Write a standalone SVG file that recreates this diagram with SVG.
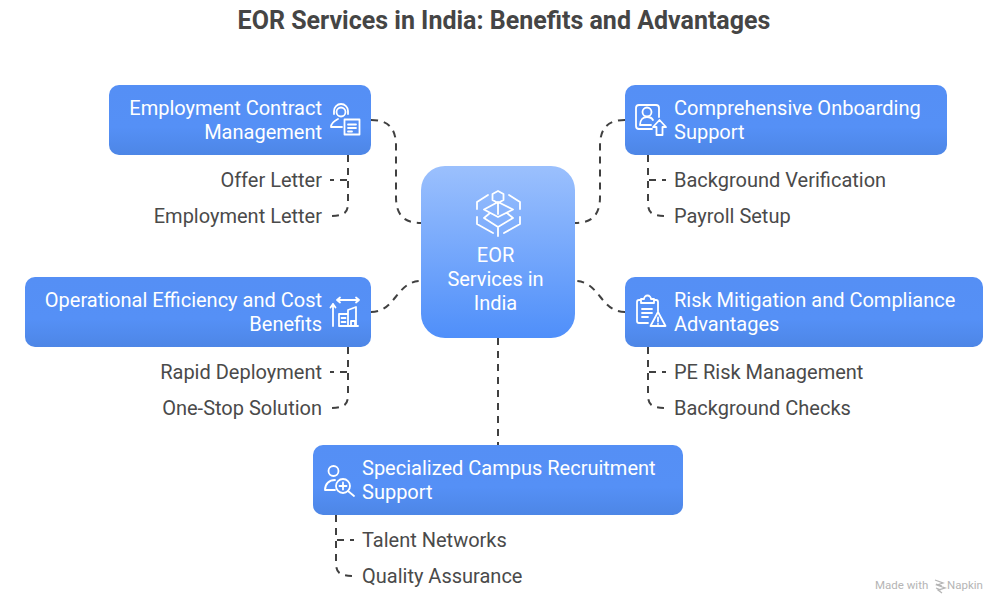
<svg xmlns="http://www.w3.org/2000/svg" width="1008" height="612" viewBox="0 0 1008 612">
<defs>
<linearGradient id="g1" x1="0" y1="0" x2="0" y2="1"><stop offset="0" stop-color="#558ff5"/><stop offset="0.6" stop-color="#5590f6"/><stop offset="1" stop-color="#4d86e6"/></linearGradient>
<linearGradient id="g2" x1="0" y1="0" x2="0" y2="1"><stop offset="0" stop-color="#9bc0fd"/><stop offset="1" stop-color="#4f8ffa"/></linearGradient>
</defs>
<style>
text{font-family:Roboto,"Liberation Sans",sans-serif;font-size:20px}
.w{fill:#fff}.d{fill:#4a4a4a}.e{text-anchor:end}
.c path{fill:none;stroke:#404040;stroke-width:2;stroke-dasharray:7 6}
.i *{fill:none;stroke:#fff;stroke-width:1.800;stroke-linecap:round;stroke-linejoin:round}
</style>
<rect width="1008" height="612" fill="#fff"/>
<text x="504" y="29" text-anchor="middle" style="font-size:25px;font-weight:700" fill="#454545">EOR Services in India: Benefits and Advantages</text>
<g class="c" id="connectors">
<path d="M371 120C388 120 396 128 396 146V197C396 215 404 223 421 223"/>
<path d="M625 120C608 120 600 128 600 146V197C600 215 592 223 575 223"/>
<path d="M371 312C396 312 396 281 421 281"/>
<path d="M625 312C600 312 600 281 575 281"/>
<path d="M498 338V445"/>
<path d="M348 155V180H330"/>
<path d="M348 155V203C348 213 344 216 330 216"/>
<path d="M648 155V180H666"/>
<path d="M648 155V203C648 213 652 216 666 216"/>
<path d="M348 347V372H330"/>
<path d="M348 347V395C348 405 344 408 330 408"/>
<path d="M648 347V372H666"/>
<path d="M648 347V395C648 405 652 408 666 408"/>
<path d="M336 515V540H354"/>
<path d="M336 515V563C336 573 340 576 354 576"/>
</g>
<g id="center"><rect x="421" y="166" width="154" height="172" rx="24" fill="url(#g2)"/>
<g class="i"><path d="M498 191l5.500 3v6l-5.500 3-5.500-3v-6zM498 203v11M498 202l-14 7.500 14 7.500 15-7.500-15-7.500M490 213l-6 5 14 9 15-9-6-5M498 227v9M488 195l-11 7v7M509 195l11 7v7M477 217v7l16 9M520 217v7l-16 9"/></g>
<text class="w" text-anchor="middle" x="495.500" y="262">EOR</text><text class="w" text-anchor="middle" x="495.500" y="286">Services in</text><text class="w" text-anchor="middle" x="495.500" y="310">India</text></g>
<g id="n1"><rect x="109" y="85" width="262" height="70" rx="10" fill="url(#g1)"/>
<g class="i"><circle cx="341" cy="112" r="4.500"/><path d="M334 114v-3a7 7 0 0 1 14 0v3M331 127c0-4 3-6 7-8M331 127h11M344.500 119.500h15v15h-15zM348 124.500h8M348 128h8M348 131.500h4"/></g>
<text class="w e" x="322" y="115">Employment Contract</text><text class="w e" x="322" y="139">Management</text></g>
<g id="n2"><rect x="625" y="85" width="322" height="70" rx="10" fill="url(#g1)"/>
<g class="i"><path d="M659 117v-9a3 3 0 0 0-3-3h-17a3 3 0 0 0-3 3v18a3 3 0 0 0 3 3h13"/><circle cx="647" cy="112" r="4.500"/><path d="M640 125c0-5 3-8 7-8 3 0 5 1 6 3M640 125h11M656.500 135v-8h-3.500l6.500-7 6.500 7h-3.500v8z"/></g>
<text class="w" x="674" y="115">Comprehensive Onboarding</text><text class="w" x="674" y="139">Support</text></g>
<g id="n3"><rect x="25" y="277" width="346" height="70" rx="10" fill="url(#g1)"/>
<g class="i"><path d="M337 300h22M337 300l3-2.500M337 300l3 2.500M359 300l-3-2.500M359 300l-3 2.500M333 326v-22M333 304l-2.500 3.500M333 304l2.500 3.500M339 326v-12h9v12zM348 326v-16l8-3v19zM339 326h19M341.500 318h4M341.500 322h4M351 321h4v5h-4z"/></g>
<text class="w e" x="322" y="307">Operational Efficiency and Cost</text><text class="w e" x="322" y="331">Benefits</text></g>
<g id="n4"><rect x="625" y="277" width="358" height="70" rx="10" fill="url(#g1)"/>
<g class="i"><path d="M641 300h-2a2 2 0 0 0-2 2v19a2 2 0 0 0 2 2h9M654 300h2a2 2 0 0 1 2 2v9M641 303v-4h3a3.500 3.500 0 0 1 7 0h3v4zM642 309h10M642 313h10M642 317h6M658 312l7.500 14h-15zM658 317.500v4M658 323.800v.2"/></g>
<text class="w" x="674" y="307">Risk Mitigation and Compliance</text><text class="w" x="674" y="331">Advantages</text></g>
<g id="n5"><rect x="313" y="445" width="370" height="70" rx="10" fill="url(#g1)"/>
<g class="i"><circle cx="333.500" cy="471" r="5"/><path d="M325 490c0-6 4-10 10-10M325 490h10"/><circle cx="343" cy="486" r="7"/><path d="M339.500 486h7M343 482.500v7M348 491l6 5"/></g>
<text class="w" x="362" y="475">Specialized Campus Recruitment</text><text class="w" x="362" y="499">Support</text></g>
<g id="l1"><text class="d e" x="322" y="187">Offer Letter</text></g>
<g id="l2"><text class="d e" x="322" y="223">Employment Letter</text></g>
<g id="l3"><text class="d" x="674" y="187">Background Verification</text></g>
<g id="l4"><text class="d" x="674" y="223">Payroll Setup</text></g>
<g id="l5"><text class="d e" x="322" y="379">Rapid Deployment</text></g>
<g id="l6"><text class="d e" x="322" y="415">One-Stop Solution</text></g>
<g id="l7"><text class="d" x="674" y="379">PE Risk Management</text></g>
<g id="l8"><text class="d" x="674" y="415">Background Checks</text></g>
<g id="l9"><text class="d" x="362" y="547">Talent Networks</text></g>
<g id="l10"><text class="d" x="362" y="583">Quality Assurance</text></g>
<g id="brand"><text x="875" y="589" fill="#b5b5b5" style="font-size:11.500px">Made with</text>
<path d="M935 580l8 3-6 2 8 3-7 2 4 3M936 584l6 2M936 588l5 2" fill="none" stroke="#b5b5b5" stroke-width="1.300"/>
<text x="947" y="589" fill="#b5b5b5" style="font-size:11.500px">Napkin</text></g>
</svg>
